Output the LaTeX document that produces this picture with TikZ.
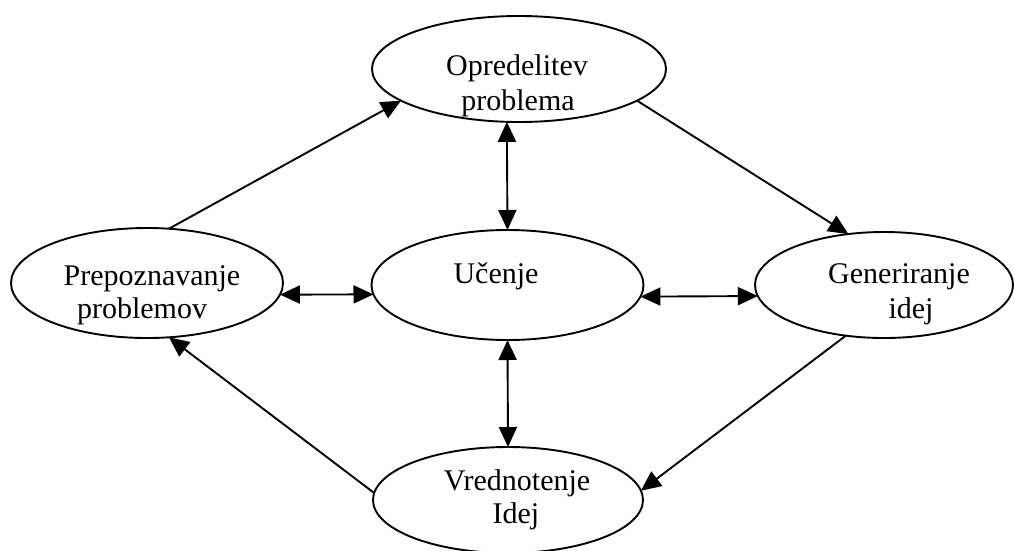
\documentclass[tikz,border=0pt]{standalone}
\usepackage{fontspec}
\setmainfont{Liberation Serif}
\usetikzlibrary{shapes.geometric,arrows.meta}

\tikzset{
  oval/.style={draw, ellipse, line width=1.9pt, inner sep=0pt, outer sep=0pt},
  lbl/.style={anchor=base, inner sep=0pt, font=\fontsize{30}{35}\selectfont},
  head/.tip={Triangle[length=20pt,width=18pt]},
  link/.style={line width=1.9pt, -head},
  twoway/.style={line width=1.9pt, head-head}
}

\begin{document}
\begin{tikzpicture}[x=1pt,y=-1pt]
\useasboundingbox (0,0) rectangle (1014,550);

% the five stages
\node[oval, minimum width=294pt, minimum height=106pt] (opr) at (519,69) {};
\node[oval, minimum width=272pt, minimum height=110pt] (pre) at (147,283) {};
\node[oval, minimum width=272pt, minimum height=110pt] (uce) at (507.5,285) {};
\node[oval, minimum width=258pt, minimum height=106pt] (gen) at (884,285) {};
\node[oval, minimum width=270pt, minimum height=106pt] (vre) at (508,500) {};

% labels
\node[lbl] (opr1) at (517,75) {Opredelitev};
\node[lbl] (opr2) at (518,110) {problema};
\node[lbl] (pre1) at (152,285) {Prepoznavanje};
\node[lbl] (pre2) at (142,318) {problemov};
\node[lbl] (uce1) at (496,283) {Učenje};
\node[lbl] (gen1) at (899,283) {Generiranje};
\node[lbl] (gen2) at (911,318) {idej};
\node[lbl] (vre1) at (517,490) {Vrednotenje};
\node[lbl] (vre2) at (516,523) {Idej};

% outer cycle
\draw[link] (pre.68) -- (opr.195);
\draw[link] (opr.345) -- (gen.125);
\draw[link] (gen.233) -- (vre.4);
\draw[link] (vre.177) -- (pre.292);

% links with the centre
\draw[twoway] (pre.-5.6) -- (uce.184.7);
\draw[twoway] (uce.355.3) -- (gen.185);
\draw[twoway] (opr.257) -- (uce.90);
\draw[twoway] (uce.270) -- (vre.90);
\end{tikzpicture}
\end{document}
